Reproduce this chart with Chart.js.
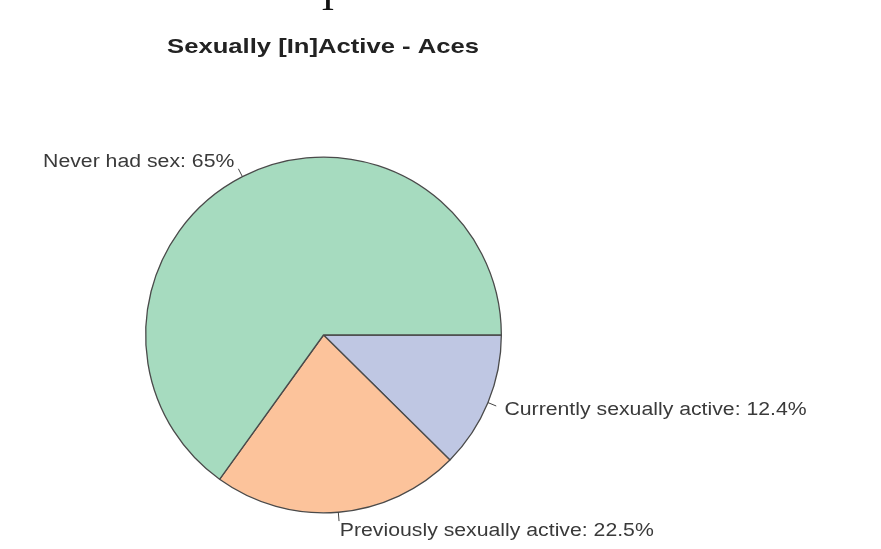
<!DOCTYPE html>
<html>
<head>
<meta charset="utf-8">
<script src="https://cdn.jsdelivr.net/npm/chart.js@4"></script>
<style>
  body { margin: 0; background: #fff; }
  #wrap { width: 881px; height: 549px; }
</style>
</head>
<body>
<div id="wrap"><canvas id="myChart" width="881" height="549"></canvas></div>
<script>
'use strict';

// slices listed clockwise from 3 o'clock (R draws them counter-clockwise)
const categories = ['Currently sexually active', 'Previously sexually active', 'Never had sex'];
const percents = [12.4, 22.5, 65];
const sliceColors = ['#bfc7e3', '#fcc39b', '#a6dbbf'];
const chartTitle = 'Sexually [In]Active - Aces';

// text in the source image is a bit wider than Liberation Sans
function wideText(ctx, text, x, y, stretch) {
  ctx.save();
  ctx.translate(x, y);
  ctx.scale(stretch, 1);
  ctx.fillText(text, 0, 0);
  ctx.restore();
}

const labelPlugin = {
  id: 'pieLabels',
  afterDraw(chart) {
    const ctx = chart.ctx;
    const arcs = chart.getDatasetMeta(0).data;
    ctx.save();
    // title
    ctx.fillStyle = '#222';
    ctx.font = 'bold 21px "Liberation Sans", Arial, sans-serif';
    ctx.textAlign = 'center';
    ctx.textBaseline = 'middle';
    wideText(ctx, chartTitle, 323, 47, 1.22);
    // leftover glyph from the page above the chart
    ctx.font = '40px "Liberation Serif", serif';
    ctx.textBaseline = 'alphabetic';
    ctx.fillStyle = '#111';
    ctx.fillText('I', 328, 10);

    ctx.font = '18px "Liberation Sans", Arial, sans-serif';
    ctx.textBaseline = 'middle';
    arcs.forEach((arc, i) => {
      const mid = (arc.startAngle + arc.endAngle) / 2;
      const r = arc.outerRadius;
      const c = Math.cos(mid), s = Math.sin(mid);
      ctx.strokeStyle = '#444';
      ctx.lineWidth = 1;
      ctx.beginPath();
      ctx.moveTo(arc.x + r * c, arc.y + r * s);
      ctx.lineTo(arc.x + r * 1.05 * c, arc.y + r * 1.05 * s);
      ctx.stroke();
      ctx.fillStyle = '#3a3a3a';
      ctx.textAlign = c >= 0 ? 'left' : 'right';
      wideText(ctx, categories[i] + ': ' + percents[i] + '%',
        arc.x + r * 1.1 * c, arc.y + r * 1.1 * s + 1, 1.18);
    });
    ctx.restore();
  }
};

new Chart(document.getElementById('myChart'), {
  type: 'pie',
  data: {
    labels: categories,
    datasets: [{
      data: percents,
      backgroundColor: sliceColors,
      borderColor: '#4a4a4a',
      borderWidth: 1.3
    }]
  },
  options: {
    responsive: false,
    animation: false,
    rotation: 90,
    layout: { padding: { left: 145, right: 379, top: 156, bottom: 35 } },
    plugins: {
      legend: { display: false },
      tooltip: { enabled: false },
      title: { display: false }
    }
  },
  plugins: [labelPlugin]
});
</script>
</body>
</html>
